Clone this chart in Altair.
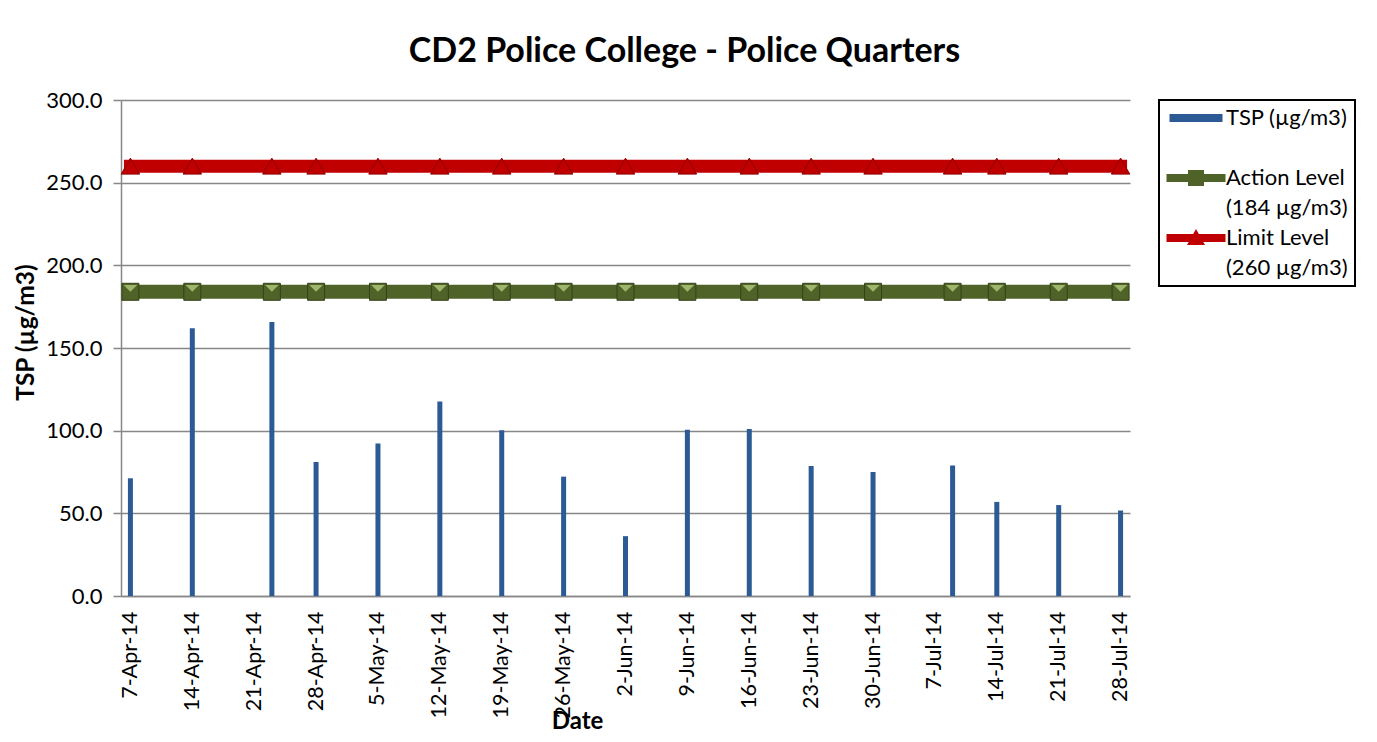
import altair as alt
import pandas as pd

# ---------------- data ----------------
chart_title = "CD2 Police College - Police Quarters"
x_title = "Date"
y_title = "TSP (µg/m3)"

sample_dates = ["2014-04-07", "2014-04-14", "2014-04-23", "2014-04-28", "2014-05-05",
                "2014-05-12", "2014-05-19", "2014-05-26", "2014-06-02", "2014-06-09",
                "2014-06-16", "2014-06-23", "2014-06-30", "2014-07-09", "2014-07-14",
                "2014-07-21", "2014-07-28"]
tsp_values = [71.2, 162.0, 165.8, 81.1, 92.2, 117.7, 100.3, 72.2, 36.2, 100.6,
              101.0, 78.7, 75.0, 79.0, 56.9, 55.0, 51.7]
action_values = [184, 184, 184, 184, 184, 184, 184, 184, 184, 184,
                 184, 184, 184, 184, 184, 184, 184]
limit_values = [260, 260, 260, 260, 260, 260, 260, 260, 260, 260,
                260, 260, 260, 260, 260, 260, 260]

# weekly tick labels (year, month, day)
tick_dates = [(2014, 4, 7), (2014, 4, 14), (2014, 4, 21), (2014, 4, 28),
              (2014, 5, 5), (2014, 5, 12), (2014, 5, 19), (2014, 5, 26),
              (2014, 6, 2), (2014, 6, 9), (2014, 6, 16), (2014, 6, 23), (2014, 6, 30),
              (2014, 7, 7), (2014, 7, 14), (2014, 7, 21), (2014, 7, 28)]
x_domain = [(2014, 4, 6, 12), (2014, 7, 28, 12)]
y_ticks = [0, 50, 100, 150, 200, 250, 300]

series_names = ["TSP (µg/m3)", "Action Level (184 µg/m3)", "Limit Level (260 µg/m3)"]
legend_lines = [["TSP (µg/m3)", " "], ["Action Level", "(184 µg/m3)"], ["Limit Level", "(260 µg/m3)"]]

# ---------------- styles ----------------
FONT = "Lato"
BAR_COLOR = "#2C5A94"
GREEN = "#4F6228"
RED = "#C00000"
GRID = "#878787"
series_colors = [BAR_COLOR, GREEN, RED]
# legend glyphs (unit = 5px at symbolSize 100)
legend_paths = [
    "M-5.3,-0.8H5.3V0.8H-5.3Z",
    "M-5.9,-0.8H-1.6V-1.6H1.6V-0.8H5.9V0.8H1.6V1.6H-1.6V0.8H-5.9Z",
    "M-5.9,-0.8H-0.56L0,-1.8L0.56,-0.8H5.9V0.8H1.46L1.8,1.4H-1.8L-1.46,0.8H-5.9Z",
]

df = pd.DataFrame({
    "date": [d + "T00:00:00" for d in sample_dates],
    "tsp": tsp_values,
    "action": action_values,
    "limit": limit_values,
})
legend_df = pd.DataFrame({"series": series_names})


def dt(t):
    if len(t) == 4:
        return alt.DateTime(year=t[0], month=t[1], date=t[2], hours=t[3])
    return alt.DateTime(year=t[0], month=t[1], date=t[2])


x_enc = alt.X(
    "date:T",
    scale=alt.Scale(domain=[dt(t) for t in x_domain]),
    axis=alt.Axis(
        values=[dt(t) for t in tick_dates], format="%-d-%b-%y",
        labelAngle=270, labelAlign="right", labelBaseline="middle",
        labelFont=FONT, labelFontSize=21.5, labelColor="black",
        labelPadding=15, ticks=False, grid=False,
        labelOverlap=False, labelFlush=False,
        domainColor=GRID, domainWidth=1.5,
        title=x_title, titleFont=FONT, titleFontSize=24, titleFontWeight="bold",
        titleColor="black", titleX=456, titleY=125, titleBaseline="middle",
        titleAlign="center",
    ),
)


def y_enc(field):
    return alt.Y(
        f"{field}:Q",
        scale=alt.Scale(domain=[0, 300], nice=False, zero=True),
        axis=alt.Axis(
            values=y_ticks, format=".1f",
            labelFont=FONT, labelFontSize=22, labelColor="black", labelPadding=11,
            tickSize=8, tickColor=GRID, tickWidth=1.5,
            grid=True, gridColor=GRID, gridWidth=1.4,
            domainColor=GRID, domainWidth=1.5,
            minExtent=77, maxExtent=77,
            title=y_title, titleFont=FONT, titleFontSize=24.5, titleFontWeight="bold",
            titleColor="black", titlePadding=6, titleY=232,
        ),
    )


base = alt.Chart(df)

bars = base.mark_bar(size=5, color=BAR_COLOR).encode(x=x_enc, y=y_enc("tsp"))

action_line = base.mark_line(color=GREEN, strokeWidth=14, strokeCap="square").encode(
    x=x_enc, y=y_enc("action"))
limit_line = base.mark_line(color=RED, strokeWidth=13, strokeCap="square").encode(
    x=x_enc, y=y_enc("limit"))

action_pts = base.mark_point(shape="square", filled=True, size=289, fill=GREEN,
                             stroke="#34421A", strokeWidth=1, opacity=1).encode(
    x=x_enc, y=y_enc("action"))
action_bevel = base.mark_point(shape="M-0.8,-0.8H0.8L0,0Z", filled=True, size=289,
                               fill="#9DB66B", strokeWidth=0, opacity=1).encode(
    x=x_enc, y=y_enc("action"))
limit_pts = base.mark_point(shape="triangle-up", filled=True, size=340, fill=RED,
                            stroke="#8E0000", strokeWidth=1, opacity=1).encode(
    x=x_enc, y=y_enc("limit"))

label_expr = (
    f'datum.label == "{series_names[0]}" ? ["{legend_lines[0][0]}", "{legend_lines[0][1]}"] : '
    f'datum.label == "{series_names[1]}" ? ["{legend_lines[1][0]}", "{legend_lines[1][1]}"] : '
    f'["{legend_lines[2][0]}", "{legend_lines[2][1]}"]'
)

leg = alt.Legend(
    title=None, orient="right", offset=29, padding=7,
    symbolSize=100, symbolOffset=19, symbolStrokeWidth=0,
    labelOffset=19, labelFont=FONT, labelFontSize=22, labelColor="black",
    labelLimit=400, labelExpr=label_expr, rowPadding=8,
    strokeColor="black",
)

legend_layer = alt.Chart(legend_df).mark_point(filled=True, opacity=1).encode(
    color=alt.Color("series:N", scale=alt.Scale(domain=series_names, range=series_colors), legend=leg),
    shape=alt.Shape("series:N", scale=alt.Scale(domain=series_names, range=legend_paths), legend=leg),
).transform_filter("false")

chart = alt.layer(
    bars, action_line, limit_line, action_pts, action_bevel, limit_pts, legend_layer
).properties(
    width=1009, height=496,
    title=alt.TitleParams(chart_title, font=FONT, fontSize=34, fontWeight="bold",
                          color="black", anchor="middle", frame="bounds", offset=20),
    padding={"left": 5, "top": 27, "right": 0, "bottom": 0},
).configure(
    font=FONT,
    view=alt.ViewConfig(strokeWidth=0),
    legend=alt.LegendConfig(strokeWidth=2),
    style={"guide-label": {"lineHeight": 30}},
)

chart.save("out.html", embed_options={"renderer": "svg", "actions": False})
